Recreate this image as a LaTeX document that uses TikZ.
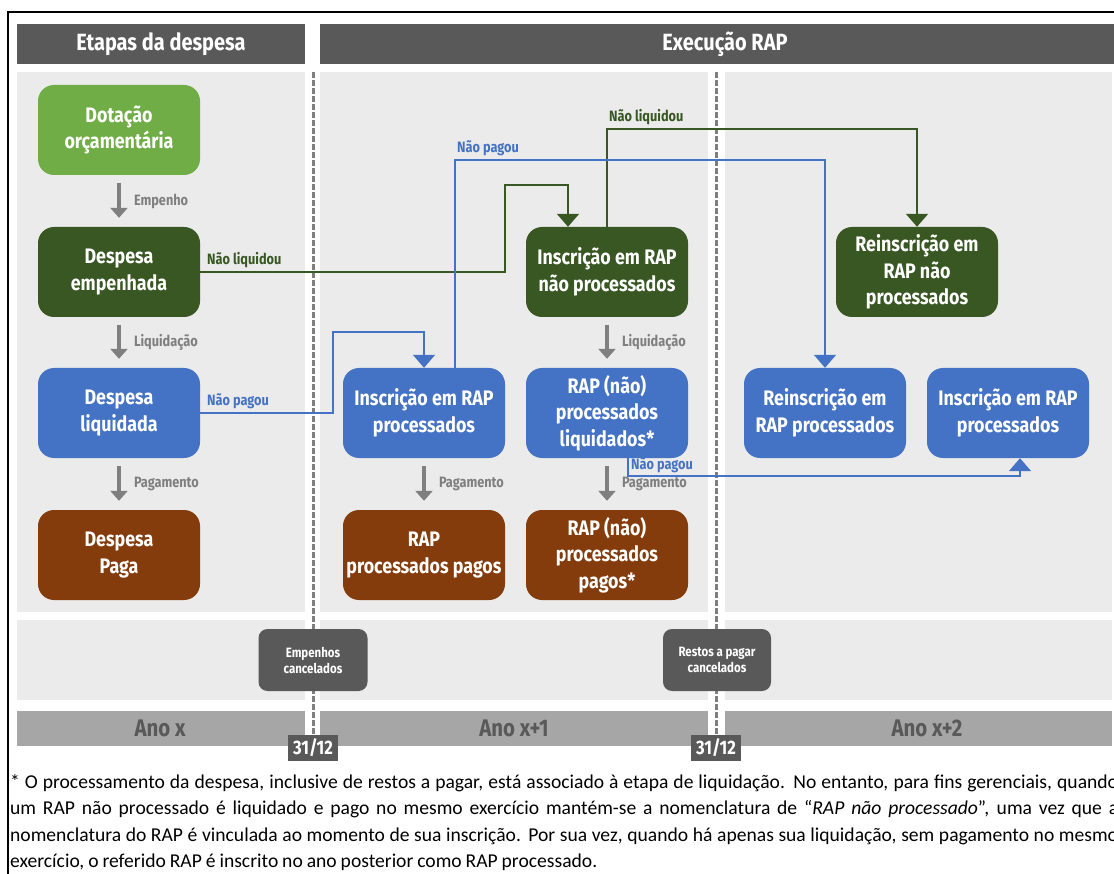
\documentclass[tikz,border=0pt]{standalone}
\usepackage{fontspec}
\setmainfont{Carlito}
\newfontfamily\dfont{Fira Sans}[FakeStretch=0.85]
\usetikzlibrary{arrows.meta}
\newcommand\fnsetup{\fontsize{19.6}{25}\selectfont\spaceskip 0.2em plus 0.4em minus 0.06em\relax}
\definecolor{lgreen}{HTML}{70AD47}
\definecolor{dgreen}{HTML}{385723}
\definecolor{mblue}{HTML}{4472C4}
\definecolor{bbrown}{HTML}{843C0C}
\definecolor{hgray}{HTML}{595959}
\definecolor{pgray}{HTML}{EBEBEB}
\definecolor{agray}{HTML}{A6A6A6}
\definecolor{arrgray}{HTML}{7F7F7F}
\tikzset{
  stagebox/.style={rounded corners=16pt, minimum width=162pt, minimum height=90pt,
    text=white, inner sep=0pt, align=center,
    font=\dfont\bfseries\fontsize{21}{26.5}\selectfont},
  garrow/.style={draw=arrgray, line width=4pt, -{Triangle[width=17pt,length=10pt]},
    shorten <=8pt, shorten >=9pt},
  glabel/.style={text=arrgray, inner sep=0pt, font=\dfont\bfseries\fontsize{15}{17}\selectfont},
  gline/.style={draw=dgreen, line width=2pt, -{Triangle[width=22pt,length=13pt]}},
  bline/.style={draw=mblue, line width=1.6pt, -{Triangle[width=22pt,length=13pt]}},
  llabel/.style={inner sep=0pt, font=\dfont\bfseries\fontsize{15}{17}\selectfont},
  dline/.style={draw=arrgray, line width=3pt, dash pattern=on 6pt off 2pt},
  cbox/.style={fill=hgray, rounded corners=9pt, minimum height=62pt, text=white,
    inner sep=0pt, align=center, font=\dfont\bfseries\fontsize{13.5}{16}\selectfont},
  datebox/.style={fill=hgray, minimum width=50pt, minimum height=26pt, text=white,
    inner sep=0pt, font=\dfont\bfseries\fontsize{19.5}{22}\selectfont},
  hdrtext/.style={text=white, inner sep=0pt, font=\dfont\bfseries\fontsize{23.5}{26}\selectfont},
  anotext/.style={text=hgray, inner sep=0pt, font=\dfont\bfseries\fontsize{24}{26}\selectfont},
  fnline/.style={anchor=base west, inner sep=0pt, font=\fnsetup}
}
\begin{document}
\begin{tikzpicture}[x=1pt,y=-1pt]
\useasboundingbox (0,0) rectangle (1114,874);
% frame
\draw[black, line width=2pt] (8,880) -- (8,12) -- (1120,12);
% headers
\fill[hgray] (17,24) rectangle (305,64);
\fill[hgray] (320,24) rectangle (1120,64);
\node[hdrtext] (h1) at (161,44) {Etapas da despesa};
\node[hdrtext] (h2) at (725,44) {Execução RAP};
% panels
\fill[pgray] (17,72) rectangle (305,612);
\fill[pgray] (320,72) rectangle (708,612);
\fill[pgray] (725,72) rectangle (1112,612);
\fill[pgray] (17,620) rectangle (305,700);
\fill[pgray] (320,620) rectangle (708,700);
\fill[pgray] (725,620) rectangle (1112,700);
\fill[agray] (17,711) rectangle (305,746);
\fill[agray] (320,711) rectangle (708,746);
\fill[agray] (725,711) rectangle (1112,746);
\node[anotext] (a1) at (160,728) {Ano x};
\node[anotext] (a2) at (514,728) {Ano x+1};
\node[anotext] (a3) at (927,728) {Ano x+2};
% year separators
\coordinate (t1) at (313,72);
\coordinate (t2) at (716,72);
\node[datebox] (d1) at (313,748) {31/12};
\node[datebox] (d2) at (716,748) {31/12};
\draw[dline] (t1) -- (d1.north);
\draw[dline] (t2) -- (d2.north);
\node[cbox, minimum width=109pt] (ec) at (313,660) {Empenhos\\cancelados};
\node[cbox, minimum width=108pt] (rc) at (717,660) {Restos a pagar\\cancelados};
% stage nodes
\node[stagebox, fill=lgreen] (dot) at (119,130) {Dotação\\orçamentária};
\node[stagebox, fill=dgreen] (emp) at (119,272) {Despesa\\empenhada};
\node[stagebox, fill=mblue] (liq) at (119,413) {Despesa\\liquidada};
\node[stagebox, fill=bbrown] (paga) at (119,555) {Despesa\\Paga};
\node[stagebox, fill=mblue] (irp) at (424,413) {Inscrição em RAP\\processados};
\node[stagebox, fill=bbrown] (rpp) at (424,555) {RAP\\processados pagos};
\node[stagebox, fill=dgreen] (irnp) at (607,272) {Inscrição em RAP\\não processados};
\node[stagebox, fill=mblue] (rnpl) at (607,413) {RAP (não)\\processados\\liquidados*};
\node[stagebox, fill=bbrown] (rnpp) at (607,555) {RAP (não)\\processados\\pagos*};
\node[stagebox, fill=dgreen] (rirnp) at (917,272) {Reinscrição em\\RAP não\\processados};
\node[stagebox, fill=mblue] (rirp) at (825,413) {Reinscrição em\\RAP processados};
\node[stagebox, fill=mblue] (irp2) at (1008,413) {Inscrição em RAP\\processados};
% gray arrows
\draw[garrow] (dot.south) -- node[glabel, right=13pt] {Empenho} (emp.north);
\draw[garrow] (emp.south) -- node[glabel, right=13pt] {Liquidação} (liq.north);
\draw[garrow] (liq.south) -- node[glabel, right=13pt] {Pagamento} (paga.north);
\draw[garrow] (irp.south) -- node[glabel, right=13pt] {Pagamento} (rpp.north);
\draw[garrow] (irnp.south) -- node[glabel, right=13pt] {Liquidação} (rnpl.north);
\draw[garrow] (rnpl.south) -- node[glabel, right=13pt] {Pagamento} (rnpp.north);
% green connectors
\draw[gline] (emp.east) -| (505,185) -| ([xshift=-39pt]irnp.north);
\node[llabel, text=dgreen, anchor=south west] (nl1) at (207,268) {Não liquidou};
\draw[gline] (irnp.north) |- ([yshift=98pt]rirnp.north) -- (rirnp.north);
\node[llabel, text=dgreen, anchor=south west] (nl2) at (609,125) {Não liquidou};
% blue connectors
\draw[bline] (liq.east) -| (333,332) -| (irp.north);
\node[llabel, text=mblue, anchor=south west] (np1) at (207,409) {Não pagou};
\draw[bline] ([xshift=31pt]irp.north) |- ([yshift=208pt]rirp.north) -- (rirp.north);
\node[llabel, text=mblue, anchor=south west] (np2) at (457,156) {Não pagou};
\draw[bline] ([xshift=21pt]rnpl.south) |- ([xshift=12pt,yshift=-18pt]irp2.south) -- ([xshift=12pt]irp2.south);
\node[llabel, text=mblue, anchor=south west] (np3) at (631,473) {Não pagou};
% footnote
\node[fnline] (fn1) at (10,788) {\makebox[1108pt][s]{* O processamento da despesa, inclusive de restos a pagar, está associado à etapa de liquidação. No entanto, para fins gerenciais, quando}};
\node[fnline] (fn2) at (10,814.5) {\makebox[1108pt][s]{um RAP não processado é liquidado e pago no mesmo exercício mantém-se a nomenclatura de “\textit{RAP não processado}”, uma vez que a}};
\node[fnline] (fn3) at (10,841) {\makebox[1108pt][s]{nomenclatura do RAP é vinculada ao momento de sua inscrição. Por sua vez, quando há apenas sua liquidação, sem pagamento no mesmo}};
\node[fnline] (fn4) at (10,867.5) {exercício, o referido RAP é inscrito no ano posterior como RAP processado.};
\end{tikzpicture}
\end{document}
